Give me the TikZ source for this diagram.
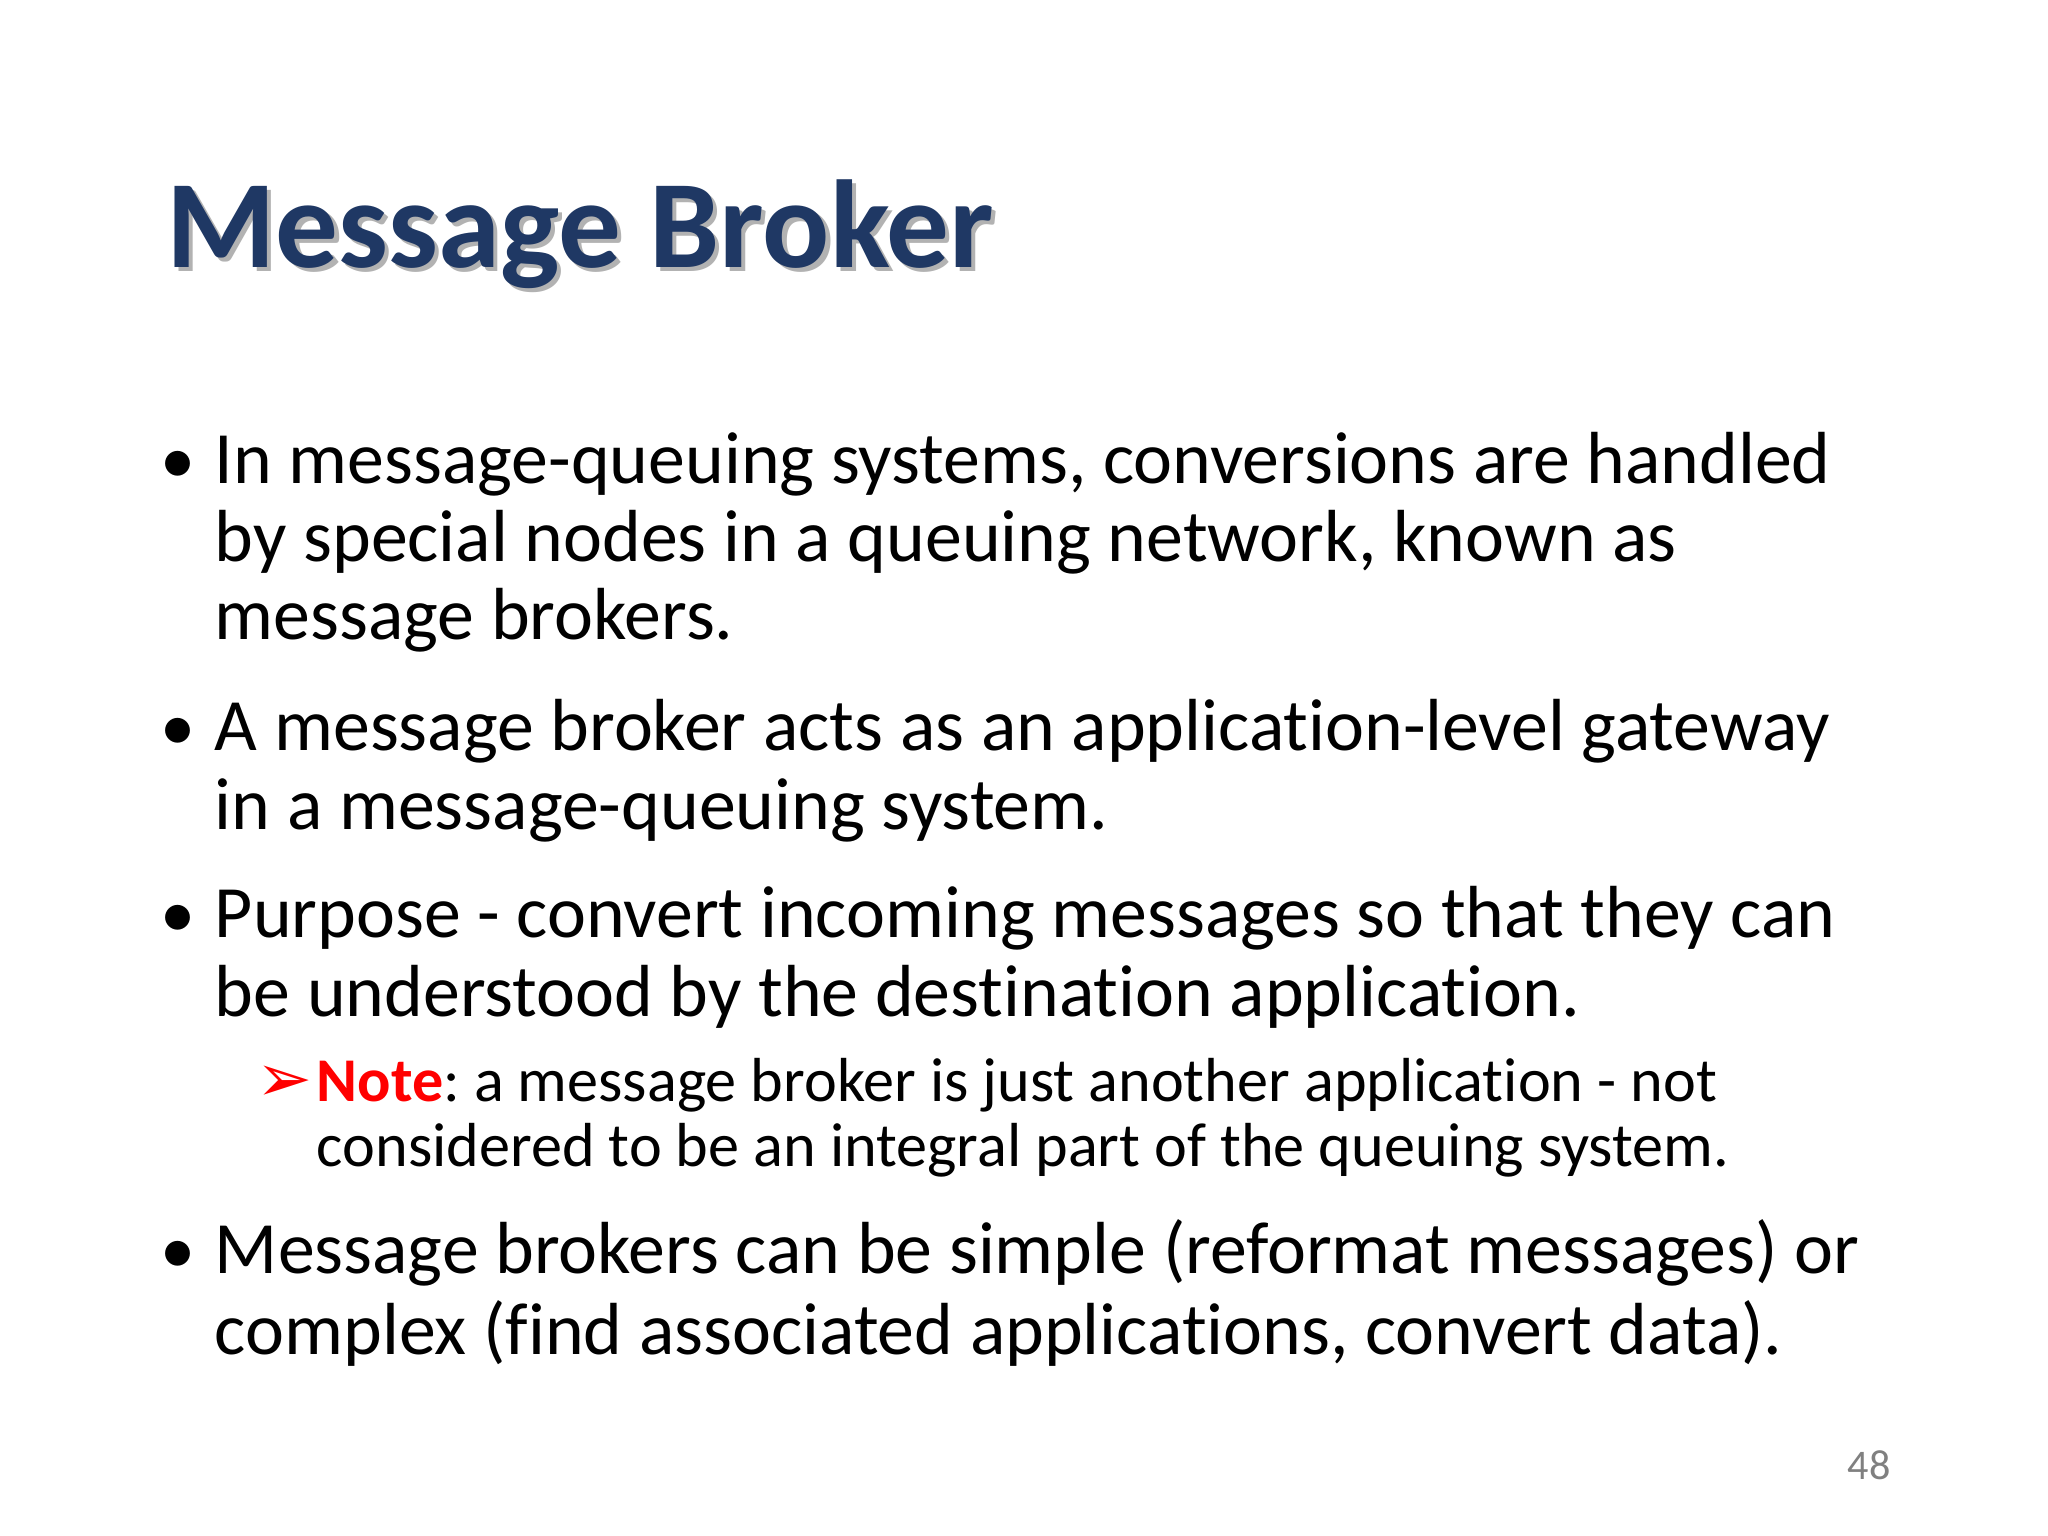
\documentclass[tikz,border=0pt]{standalone}
\usepackage{fontspec}
\setmainfont{Carlito}[Ligatures=NoCommon]
\newfontfamily\symfont{DejaVu Sans}
\definecolor{titleblue}{HTML}{1F3864}
\definecolor{notered}{HTML}{FF0000}
\frenchspacing
\begin{document}
\begin{tikzpicture}
\tikzset{
 body/.style={anchor=base west,inner sep=0pt,font=\fontsize{21}{25}\selectfont},
 small/.style={anchor=base west,inner sep=0pt,font=\fontsize{17.7}{21}\selectfont},
 bul/.style={anchor=base west,inner sep=0pt,font=\fontsize{20}{24}\selectfont}
}
\useasboundingbox (0,0) rectangle (20.48,-15.36);
\fill[white] (0,0) rectangle (20.48,-15.36);
\node[anchor=base west,inner sep=0pt,font=\fontsize{35.6}{40}\bfseries\selectfont,text=black!30] (tsh) at (1.70,-2.72) {Message Broker};
\node[anchor=base west,inner sep=0pt,font=\fontsize{35.6}{40}\bfseries\selectfont,text=titleblue] (t) at (1.659,-2.677) {Message Broker};
\node[bul] (b1) at (1.60,-4.832) {•};
\node[body] (l1) at (2.142,-4.832) {In message-queuing systems, conversions are handled};
\node[body] (l2) at (2.142,-5.616) {by special nodes in a queuing network, known as};
\node[body] (l3) at (2.142,-6.399) {message brokers.};
\node[bul] (b2) at (1.60,-7.509) {•};
\node[body] (l4) at (2.142,-7.509) {A message broker acts as an application-level gateway};
\node[body] (l5) at (2.142,-8.293) {in a message-queuing system.};
\node[bul] (b3) at (1.60,-9.377) {•};
\node[body] (l6) at (2.142,-9.377) {Purpose - convert incoming messages so that they can};
\node[body] (l7) at (2.142,-10.161) {be understood by the destination application.};
\node[anchor=base east,inner sep=0pt,text=notered,font=\fontsize{19}{22}\symfont] (ar) at (3.13,-11.010) {➢};
\node[small] (n1) at (3.161,-11.010) {\textcolor{notered}{\bfseries Note}: a message broker is just another application - not};
\node[small] (n2) at (3.161,-11.663) {considered to be an integral part of the queuing system.};
\node[bul] (b4) at (1.60,-12.734) {•};
\node[body] (l8) at (2.142,-12.734) {Message brokers can be simple (reformat messages) or};
\node[body] (l9) at (2.142,-13.543) {complex (find associated applications, convert data).};
\node[inner sep=0pt,font=\fontsize{12}{14}\selectfont,text=black!50] (pg) at (18.69,-14.65) {48};
\end{tikzpicture}
\end{document}
